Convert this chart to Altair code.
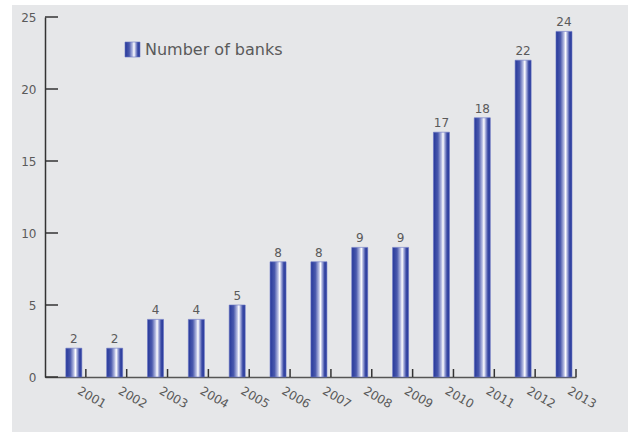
import altair as alt
import pandas as pd

years = ["2001", "2002", "2003", "2004", "2005", "2006", "2007",
         "2008", "2009", "2010", "2011", "2012", "2013"]
banks = [2, 2, 4, 4, 5, 8, 8, 9, 9, 17, 18, 22, 24]
series_name = "Number of banks"
y_ticks = [0, 5, 10, 15, 20, 25]

df = pd.DataFrame({"year": years, "banks": banks})
leg = pd.DataFrame({"name": [series_name]})
yt = pd.DataFrame({"tick": y_ticks})

FONT = "DejaVu Sans"
TXT = "#5a5a5a"
W, H = 531, 360

grad = alt.Gradient(
    gradient="linear",
    x1=0, x2=1, y1=0, y2=0,
    stops=[
        alt.GradientStop(offset=0.0, color="#26389a"),
        alt.GradientStop(offset=0.28, color="#4a59ad"),
        alt.GradientStop(offset=0.5, color="#b9bfe3"),
        alt.GradientStop(offset=0.6, color="#ffffff"),
        alt.GradientStop(offset=0.7, color="#a9b0dc"),
        alt.GradientStop(offset=0.85, color="#3a4aa5"),
        alt.GradientStop(offset=1.0, color="#26389a"),
    ],
)

xscale = alt.Scale(paddingInner=0, paddingOuter=0)
yscale = alt.Scale(domain=[0, 25], nice=False)

# white page margins around the grey panel
margins = alt.Chart(leg).mark_rect(color="#ffffff").encode(
    x=alt.value(-45), x2=alt.value(-33), y=alt.value(-17), y2=alt.value(415)
) + alt.Chart(leg).mark_rect(color="#ffffff").encode(
    x=alt.value(-45), x2=alt.value(587), y=alt.value(-17), y2=alt.value(-12)
) + alt.Chart(leg).mark_rect(color="#ffffff").encode(
    x=alt.value(583), x2=alt.value(587), y=alt.value(-17), y2=alt.value(415)
)

bars = alt.Chart(df).mark_bar(color=grad, size=16, xOffset=8.4,
                              stroke="#6a76c4", strokeWidth=0.6).encode(
    x=alt.X("year:O", scale=xscale,
            axis=alt.Axis(orient="bottom", title=None, ticks=False,
                          domain=True, domainColor="#555555", domainWidth=1.5,
                          labelAngle=30, labelAlign="center", labelBaseline="middle",
                          labelPadding=20, labelOffset=26.5,
                          labelFont=FONT, labelFontSize=12, labelColor=TXT)),
    y=alt.Y("banks:Q", scale=yscale,
            axis=alt.Axis(orient="left", title=None, ticks=False,
                          values=y_ticks, grid=False,
                          domain=True, domainColor="#333333", domainWidth=1.5,
                          labelPadding=9, labelFont=FONT, labelFontSize=12,
                          labelColor=TXT)),
)

values = alt.Chart(df).mark_text(dx=8.4, dy=-5, baseline="alphabetic",
                                 font=FONT, fontSize=12, color=TXT).encode(
    x=alt.X("year:O", scale=xscale),
    y=alt.Y("banks:Q", scale=yscale),
    text="banks:Q",
)

x_ticks = alt.Chart(df).mark_rule(color="#333333", strokeWidth=1.5).encode(
    x=alt.X("year:O", scale=xscale, bandPosition=1),
    y=alt.value(H), y2=alt.value(H - 8),
)

y_tick_marks = alt.Chart(yt).mark_rule(color="#333333", strokeWidth=1.5).encode(
    y=alt.Y("tick:Q", scale=yscale),
    x=alt.value(0), x2=alt.value(13),
)

leg_box = alt.Chart(leg).mark_rect(color=grad, stroke="#6a76c4", strokeWidth=0.6).encode(
    x=alt.value(80), x2=alt.value(95), y=alt.value(25), y2=alt.value(40)
)
leg_text = alt.Chart(leg).mark_text(align="left", baseline="middle", font=FONT,
                                    fontSize=16, color=TXT).encode(
    x=alt.value(100), y=alt.value(32.5), text="name:N"
)

chart = alt.layer(margins, bars, values, x_ticks, y_tick_marks, leg_box, leg_text).properties(
    width=W, height=H,
    autosize=alt.AutoSizeParams(type="none"),
    padding={"left": 45, "top": 17, "right": 56, "bottom": 55},
    background="#e6e7e9",
).configure_view(stroke=None)

chart.save("out.html", embed_options={"renderer": "svg", "actions": False})
